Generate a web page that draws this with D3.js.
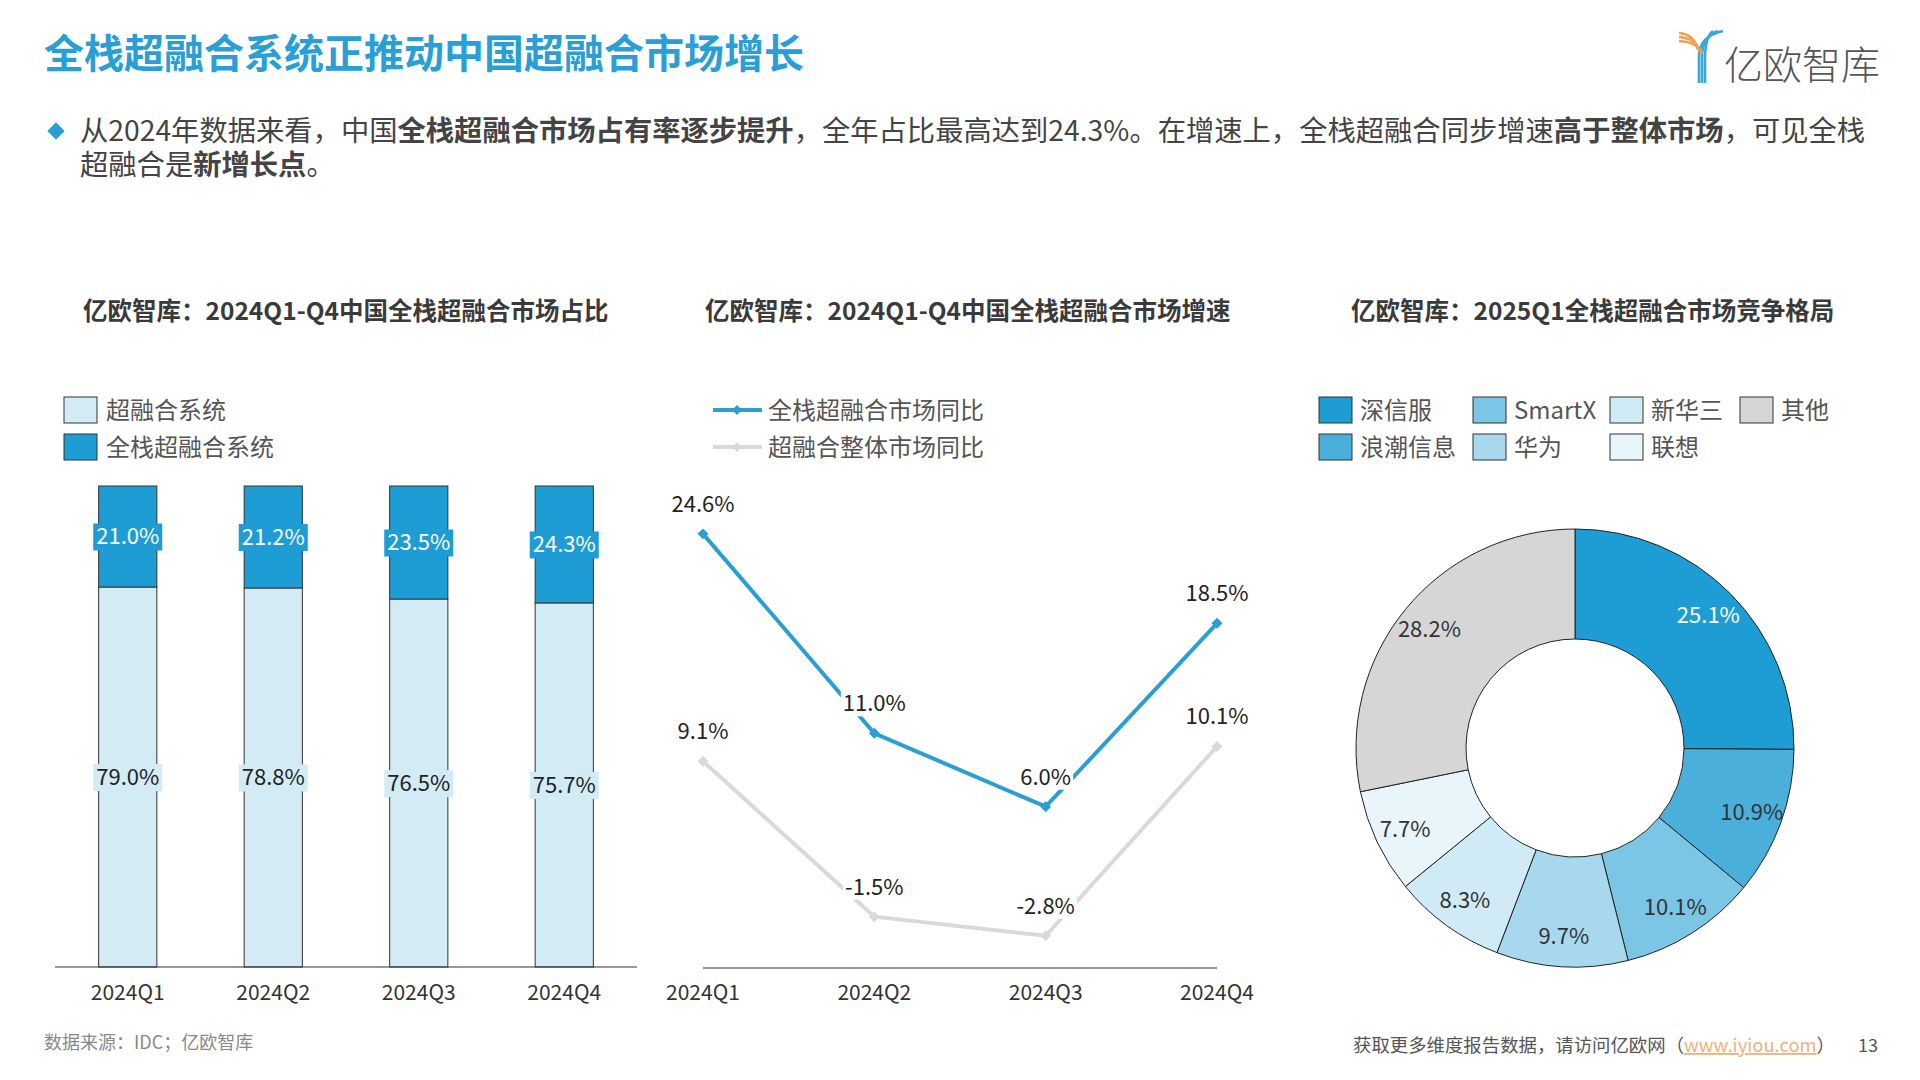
<!DOCTYPE html>
<html>
<head>
<meta charset="utf-8">
<script src="https://cdn.jsdelivr.net/npm/d3@7"></script>
<style>
  body { margin: 0; background: #fff; }
  text { font-family: "Noto Sans CJK SC", "Noto Sans", sans-serif; }
</style>
</head>
<body>
<svg id="svg_1"></svg>
<script>
// ---- data ----
var quarters = ["2024Q1", "2024Q2", "2024Q3", "2024Q4"];
var shareHci = [79.0, 78.8, 76.5, 75.7];
var shareFullStack = [21.0, 21.2, 23.5, 24.3];
var barSeries = ["超融合系统", "全栈超融合系统"];

var lineSeries = ["全栈超融合市场同比", "超融合整体市场同比"];
var growthFullStack = [24.6, 11.0, 6.0, 18.5];
var growthHci = [9.1, -1.5, -2.8, 10.1];

var vendors = ["深信服", "浪潮信息", "SmartX", "华为", "新华三", "联想", "其他"];
var vendorShare = [25.1, 10.9, 10.1, 9.7, 8.3, 7.7, 28.2];
var legendRows = [["深信服", "SmartX", "新华三", "其他"], ["浪潮信息", "华为", "联想"]];

var BLUE = "#1e9dd5";
var LIGHT = "#d3ebf5";
var LINE_BLUE = "#2b9fd0";
var LINE_GRAY = "#d9d9d9";
var vendorColors = ["#1e9dd5", "#4bafdc", "#7bc5e5", "#a8d8ee", "#d0eaf6", "#e8f5fb", "#d6d6d6"];

var width = 1920, height = 1080;
var svg = d3.select("#svg_1").attr("width", width).attr("height", height);
svg.append("rect").attr("width", width).attr("height", height).attr("fill", "#fff");

// rotated square marker
function diamond(size) {
  return d3.symbol().type(d3.symbolSquare).size(size)();
}

// ---- header ----
svg.append("text")
  .attr("x", 44).attr("y", 68)
  .style("font-size", "40px").style("font-weight", 700)
  .attr("fill", "#2a9fd6")
  .text("全栈超融合系统正推动中国超融合市场增长");

// logo
var logo = svg.append("g");
[0, 1, 2].forEach(function (i) {
  logo.append("path")
    .attr("d", "M1679," + (33 + i * 4) + " Q" + (1694 + i * 2) + "," + (34 + i * 4) + " " + (1698 + i * 2) + "," + (50 + i * 2))
    .attr("fill", "none").attr("stroke", "#f0a050").attr("stroke-width", 2.6);
  logo.append("path")
    .attr("d", "M" + (1723 - i * 5) + ",31 Q" + (1700 + i * 3) + ",36 " + (1699 + i * 3) + ",55 L" + (1699 + i * 3) + ",83")
    .attr("fill", "none").attr("stroke", "#3aa7dc").attr("stroke-width", 2.6);
});
svg.append("text")
  .attr("x", 1724).attr("y", 79)
  .style("font-size", "39px").style("font-weight", 300)
  .attr("fill", "#555")
  .text("亿欧智库");

// bullet
svg.append("path")
  .attr("d", diamond(150))
  .attr("transform", "translate(56,131) rotate(45)")
  .attr("fill", "#2a9fd6");

var bulletLines = [
  [["从2024年数据来看，中国", 400], ["全栈超融合市场占有率逐步提升", 700], ["，全年占比最高达到24.3%。在增速上，全栈超融合同步增速", 400], ["高于整体市场", 700], ["，可见全栈", 400]],
  [["超融合是", 400], ["新增长点", 700], ["。", 400]]
];
var para = svg.append("text")
  .attr("x", 80).attr("y", 141)
  .style("font-size", "28.3px")
  .attr("fill", "#444");
bulletLines.forEach(function (line, li) {
  line.forEach(function (seg, si) {
    var ts = para.append("tspan").style("font-weight", seg[1]).text(seg[0]);
    if (li > 0 && si === 0) ts.attr("x", 80).attr("dy", 34);
  });
});

// chart titles
var titles = [
  ["亿欧智库：2024Q1-Q4中国全栈超融合市场占比", 83],
  ["亿欧智库：2024Q1-Q4中国全栈超融合市场增速", 705],
  ["亿欧智库：2025Q1全栈超融合市场竞争格局", 1351]
];
titles.forEach(function (d) {
  svg.append("text")
    .attr("x", d[1]).attr("y", 320)
    .style("font-size", "24.5px").style("font-weight", 700)
    .attr("fill", "#3a3a3a")
    .text(d[0]);
});

// ---- stacked bar chart ----
var xscale = d3.scaleBand().domain(quarters).range([55, 637]).paddingInner(0.6).paddingOuter(0.3);
var yscale = d3.scaleLinear().domain([0, 100]).range([967, 486]);

// legend
[LIGHT, BLUE].forEach(function (c, i) {
  svg.append("rect")
    .attr("x", 64).attr("y", 397 + i * 37)
    .attr("width", 33).attr("height", 26)
    .attr("fill", c).attr("stroke", "#333").attr("stroke-width", 1);
  svg.append("text")
    .attr("x", 106).attr("y", 419 + i * 37)
    .style("font-size", "24px")
    .attr("fill", "#555")
    .text(barSeries[i]);
});

var barG = svg.append("g");
quarters.forEach(function (q, i) {
  var x = xscale(q), w = xscale.bandwidth();
  var segs = [
    { y0: 0, y1: shareHci[i], fill: LIGHT, txt: "#222" },
    { y0: shareHci[i], y1: shareHci[i] + shareFullStack[i], fill: BLUE, txt: "#fff" }
  ];
  segs.forEach(function (s) {
    barG.append("rect")
      .attr("x", x).attr("y", yscale(s.y1))
      .attr("width", w).attr("height", yscale(s.y0) - yscale(s.y1))
      .attr("fill", s.fill).attr("stroke", "#333").attr("stroke-width", 1);
  });
  segs.forEach(function (s) {
    var cy = (yscale(s.y0) + yscale(s.y1)) / 2;
    var lbl = barG.append("g");
    var t = lbl.append("text")
      .attr("x", x + w / 2).attr("y", cy)
      .attr("text-anchor", "middle").attr("dy", "0.36em")
      .style("font-size", "22px")
      .attr("fill", s.txt)
      .text((s.y1 - s.y0).toFixed(1) + "%");
    var bb = t.node().getBBox();
    lbl.insert("rect", "text")
      .attr("x", bb.x - 3).attr("y", cy - 13)
      .attr("width", bb.width + 6).attr("height", 27)
      .attr("fill", s.fill);
  });
});

svg.append("line")
  .attr("x1", 55).attr("x2", 637).attr("y1", 967).attr("y2", 967)
  .attr("stroke", "#333").attr("stroke-width", 1.2);
svg.append("g").selectAll("text").data(quarters).enter().append("text")
  .attr("x", function (d) { return xscale(d) + xscale.bandwidth() / 2; })
  .attr("y", 1000)
  .attr("text-anchor", "middle")
  .style("font-size", "21px")
  .attr("fill", "#333")
  .text(function (d) { return d; });

// ---- line chart ----
var lx = d3.scalePoint().domain(quarters).range([703, 1217]);
var ly = d3.scaleLinear().domain([-5, 25]).range([968, 528]);

[LINE_BLUE, LINE_GRAY].forEach(function (c, i) {
  svg.append("line")
    .attr("x1", 713).attr("x2", 762).attr("y1", 410 + i * 37).attr("y2", 410 + i * 37)
    .attr("stroke", c).attr("stroke-width", 4);
  svg.append("path")
    .attr("d", diamond(50))
    .attr("transform", "translate(737," + (410 + i * 37) + ") rotate(45)")
    .attr("fill", c);
  svg.append("text")
    .attr("x", 768).attr("y", 419 + i * 37)
    .style("font-size", "24px")
    .attr("fill", "#555")
    .text(lineSeries[i]);
});

var valueline = d3.line()
  .x(function (d, i) { return lx(quarters[i]); })
  .y(function (d) { return ly(d); });

var seriesList = [[growthHci, LINE_GRAY], [growthFullStack, LINE_BLUE]];
seriesList.forEach(function (s) {
  svg.append("path")
    .attr("fill", "none")
    .attr("stroke", s[1])
    .attr("stroke-width", 4)
    .attr("d", valueline(s[0]));
  svg.append("g").selectAll("path").data(s[0]).enter().append("path")
    .attr("d", diamond(60))
    .attr("transform", function (d, i) { return "translate(" + lx(quarters[i]) + "," + ly(d) + ") rotate(45)"; })
    .attr("fill", s[1]);
});
seriesList.forEach(function (s) {
  s[0].forEach(function (d, i) {
    var g = svg.append("g");
    var t = g.append("text")
      .attr("x", lx(quarters[i])).attr("y", ly(d) - 30)
      .attr("text-anchor", "middle").attr("dy", "0.36em")
      .style("font-size", "22px")
      .attr("fill", "#222")
      .text(d.toFixed(1) + "%");
    var bb = t.node().getBBox();
    g.insert("rect", "text")
      .attr("x", bb.x - 2).attr("y", ly(d) - 43)
      .attr("width", bb.width + 4).attr("height", 26)
      .attr("fill", "#fff");
  });
});

svg.append("line")
  .attr("x1", 703).attr("x2", 1217).attr("y1", ly(-5)).attr("y2", ly(-5))
  .attr("stroke", "#333").attr("stroke-width", 1.2);
svg.append("g").selectAll("text").data(quarters).enter().append("text")
  .attr("x", function (d) { return lx(d); })
  .attr("y", 1000)
  .attr("text-anchor", "middle")
  .style("font-size", "21px")
  .attr("fill", "#333")
  .text(function (d) { return d; });

// ---- donut ----
var legendX = [1319, 1473, 1610, 1740];
legendRows.forEach(function (row, r) {
  row.forEach(function (name, c) {
    var idx = vendors.indexOf(name);
    svg.append("rect")
      .attr("x", legendX[c]).attr("y", 397 + r * 37)
      .attr("width", 33).attr("height", 26)
      .attr("fill", vendorColors[idx]).attr("stroke", "#333").attr("stroke-width", 1);
    svg.append("text")
      .attr("x", legendX[c] + 41).attr("y", 419 + r * 37)
      .style("font-size", "24px")
      .attr("fill", "#555")
      .text(name);
  });
});

var pie = d3.pie().sort(null).value(function (d) { return d; });
var arcs = pie(vendorShare);
var arc = d3.arc().innerRadius(109).outerRadius(219);
var labelArc = d3.arc().innerRadius(188).outerRadius(188);
var donut = svg.append("g").attr("transform", "translate(1575,748)");
donut.selectAll("path").data(arcs).enter().append("path")
  .attr("d", arc)
  .attr("fill", function (d, i) { return vendorColors[i]; })
  .attr("stroke", "#222").attr("stroke-width", 1);
donut.selectAll("text").data(arcs).enter().append("text")
  .attr("transform", function (d) { return "translate(" + labelArc.centroid(d) + ")"; })
  .attr("text-anchor", "middle").attr("dy", "0.36em")
  .style("font-size", "22px")
  .attr("fill", function (d, i) { return i === 0 ? "#fff" : "#333"; })
  .text(function (d) { return d.data.toFixed(1) + "%"; });

// ---- footer ----
svg.append("text")
  .attr("x", 44).attr("y", 1049)
  .style("font-size", "18px")
  .attr("fill", "#888")
  .text("数据来源：IDC；亿欧智库");
var foot = svg.append("text")
  .attr("x", 1353).attr("y", 1052)
  .style("font-size", "18.4px")
  .attr("fill", "#555");
foot.append("tspan").text("获取更多维度报告数据，请访问亿欧网（");
foot.append("tspan").attr("fill", "#f0b27a").style("text-decoration", "underline").text("www.iyiou.com");
foot.append("tspan").text("）");
svg.append("text")
  .attr("x", 1858).attr("y", 1052)
  .style("font-size", "18px")
  .attr("fill", "#555")
  .text("13");
</script>
</body>
</html>
